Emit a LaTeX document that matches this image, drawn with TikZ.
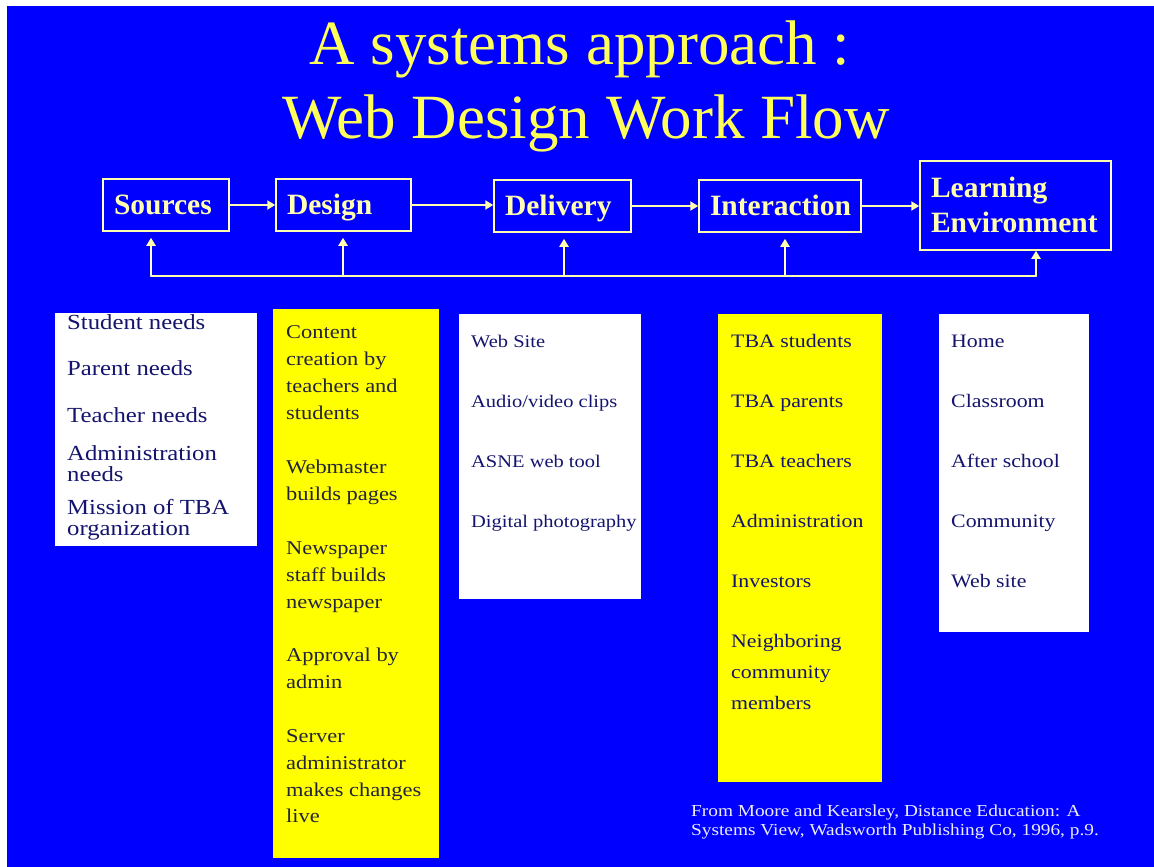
\documentclass[tikz,border=0pt]{standalone}
\usepackage{fontspec}
\setmainfont{Liberation Serif}
\newfontfamily\cellfont{Liberation Serif}[FakeStretch=1.15]
\usetikzlibrary{arrows.meta}

\definecolor{slideblue}{RGB}{0,0,255}
\definecolor{titleyellow}{RGB}{255,255,90}
\definecolor{paleyellow}{RGB}{255,255,175}
\definecolor{listyellow}{RGB}{255,255,0}
\definecolor{listnavy}{RGB}{20,20,110}
\definecolor{listdark}{RGB}{35,35,60}
\definecolor{notewhite}{RGB}{235,235,255}

\tikzset{
	titletext/.style={text=titleyellow, font=\fontsize{63}{75}\selectfont, inner sep=0pt, anchor=base},
	flowbox/.style={draw=paleyellow, line width=1.5pt, text=paleyellow,
		font=\bfseries\fontsize{29.5}{35}\selectfont, inner xsep=11pt, inner ysep=0pt,
		text height=23pt, text depth=4pt, align=left, minimum height=52pt},
	flowarrow/.style={draw=paleyellow, line width=2.5pt, -{Triangle[length=8pt,width=9pt]}},
	feedarrow/.style={draw=paleyellow, line width=2.5pt, -{Triangle[length=8pt,width=9pt]}, shorten >=6pt},
	busline/.style={draw=paleyellow, line width=2.5pt, line cap=round},
	needtext/.style={anchor=base west, inner sep=0pt, text=listnavy, font=\cellfont\fontsize{21.5}{24}\selectfont},
	designtext/.style={anchor=base west, inner sep=0pt, text=listdark, font=\cellfont\fontsize{19.5}{24}\selectfont},
	listtext/.style={anchor=base west, inner sep=0pt, text=listnavy, font=\cellfont\fontsize{19}{24}\selectfont},
	notetext/.style={anchor=base west, inner sep=0pt, text=notewhite, font=\cellfont\fontsize{16.8}{19}\selectfont}
}

\begin{document}
\begin{tikzpicture}[x=1pt,y=-1pt]
	\useasboundingbox (0,0) rectangle (1154,867);
	\fill[white] (0,0) rectangle (1154,867);
	\fill[slideblue] (7,6) rectangle (1154,867);

	% heading
	\node[titletext] (title1) at (580,64) {A systems approach :};
	\node[titletext] (title2) at (586,138) {Web Design Work Flow};

	% work flow boxes
	\node[flowbox, text width=104pt] (sources) at (166,205) {Sources};
	\node[flowbox, text width=113pt] (design) at (343.5,205) {Design};
	\node[flowbox, text width=115pt] (delivery) at (562.5,206) {Delivery};
	\node[flowbox, text width=140pt] (interaction) at (780,206) {Interaction};
	\node[flowbox, text width=169pt, text depth=39pt, minimum height=89pt] (learning) at (1015.5,205.5) {Learning\\Environment};

	\draw[flowarrow] (sources.east) -- (sources.east -| design.west);
	\draw[flowarrow] (design.east) -- (design.east -| delivery.west);
	\draw[flowarrow] (delivery.east) -- (delivery.east -| interaction.west);
	\draw[flowarrow] (interaction.east) -- (interaction.east -| learning.west);

	% feedback bus
	\coordinate (tapS) at (151,276);
	\coordinate (tapD) at (343,276);
	\coordinate (tapV) at (564,276);
	\coordinate (tapI) at (785,276);
	\coordinate (tapL) at (1036,276);
	\draw[busline] (tapS) -- (tapL);
	\foreach \t/\n in {tapS/sources, tapD/design, tapV/delivery, tapI/interaction}
		\draw[feedarrow] (\t) -- (\t |- \n.south);
	\draw[feedarrow, shorten >=0pt] (tapL) -- (tapL |- learning.south);

	% lists under each stage
	\fill[white] (55,313) rectangle (257,546);
	\fill[listyellow] (273,309) rectangle (439,858);
	\fill[white] (459,314) rectangle (641,599);
	\fill[listyellow] (718,314) rectangle (882,782);
	\fill[white] (939,314) rectangle (1089,632);

	\foreach \y/\t [count=\i] in {329/Student needs, 375/Parent needs, 422/Teacher needs,
		460/Administration, 481/needs, 514/Mission of TBA, 535/organization}
		\node[needtext] (need\i) at (67,\y) {\t};

	\foreach \y/\t [count=\i] in {338/Content, 365/creation by, 392/teachers and, 419/students,
		473/Webmaster, 500/builds pages,
		554/Newspaper, 581/staff builds, 608/newspaper,
		661/Approval by, 688/admin,
		742/Server, 769/administrator, 796/makes changes, 822/live}
		\node[designtext] (des\i) at (286,\y) {\t};

	\foreach \y/\t [count=\i] in {347/Web Site, 407/{Audio/video clips}, 467/ASNE web tool, 527/Digital photography}
		\node[listtext, font=\cellfont\fontsize{17.8}{24}\selectfont] (del\i) at (471,\y) {\t};

	\foreach \y/\t [count=\i] in {347/TBA students, 407/TBA parents, 467/TBA teachers, 527/Administration,
		587/Investors, 647/Neighboring, 678/community, 709/members}
		\node[listtext] (int\i) at (731,\y) {\t};

	\foreach \y/\t [count=\i] in {347/Home, 407/Classroom, 467/After school, 527/Community, 587/Web site}
		\node[listtext] (env\i) at (951,\y) {\t};

	% source note
	\node[notetext] (note1) at (691,816) {From Moore and Kearsley, Distance Education: A};
	\node[notetext] (note2) at (691,835) {Systems View, Wadsworth Publishing Co, 1996, p.9.};
\end{tikzpicture}
\end{document}
